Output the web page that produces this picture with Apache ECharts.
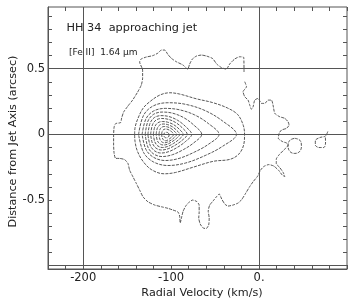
<!DOCTYPE html>
<html><head><meta charset="utf-8">
<script src="https://cdn.jsdelivr.net/npm/echarts@6/dist/echarts.min.js"></script>
<style>html,body{margin:0;padding:0;background:#fff}#c{width:354px;height:302px}</style>
</head><body><div id="c"></div>
<script>
// Axis tick / label values
const xLabelValues = [-200, -100, 0];
const xLabelTexts = ['-200', '-100', '0.'];
const yLabelValues = [-0.5, 0, 0.5];
const yLabelTexts = ['-0.5', '0', '0.5'];
const yTickValues = [-1.0,-0.9,-0.8,-0.7,-0.6,-0.5,-0.4,-0.3,-0.2,-0.1,0,0.1,0.2,0.3,0.4,0.5,0.6,0.7,0.8,0.9];
const refLinesX = [-200, 0];
const refLinesY = [0.5, 0, -1.0];

// Contours: [radial velocity km/s, distance arcsec]
const outerContour = [[-17.1,0.475],[-17.4,0.585],[-22.0,0.591],[-27.7,0.574],[-33.4,0.536],[-37.3,0.497],[-42.8,0.509],[-48.2,0.536],[-52.7,0.577],[-59.5,0.596],[-65.6,0.604],[-71.3,0.596],[-75.8,0.574],[-78.9,0.536],[-81.2,0.497],[-86.5,0.528],[-94.0,0.553],[-99.7,0.579],[-103.6,0.608],[-107.3,0.642],[-111.1,0.642],[-115.0,0.619],[-120.7,0.600],[-128.2,0.589],[-134.1,0.574],[-135.8,0.551],
[-132.4,0.490],[-132.4,0.429],[-133.9,0.376],[-138.1,0.322],[-143.8,0.261],[-149.1,0.216],[-154.0,0.170],[-156.3,0.124],[-157.4,0.090],[-163.1,0.082],[-164.8,0.056],[-165.4,-0.005],[-165.4,-0.081],[-164.8,-0.146],[-163.1,-0.183],[-158.6,-0.183],[-152.9,-0.192],[-149.1,-0.221],[-147.2,-0.272],[-143.4,-0.323],[-139.6,-0.373],[-135.8,-0.424],[-132.0,-0.475],[-126.4,-0.513],[-118.7,-0.538],[-111.1,-0.551],[-103.6,-0.563],[-97.9,-0.576],[-92.2,-0.591],[-90.3,-0.622],[-89.7,-0.675],[-88.0,-0.629],[-86.3,-0.584],[-83.4,-0.546],[-80.0,-0.519],[-75.5,-0.500],[-70.9,-0.511],[-68.1,-0.538],[-68.1,-0.591],[-68.6,-0.637],[-66.9,-0.683],[-63.5,-0.713],[-60.1,-0.717],[-57.3,-0.690],[-56.7,-0.637],[-57.8,-0.584],[-56.1,-0.538],[-52.4,-0.508],[-48.2,-0.473],[-45.3,-0.454],[-42.5,-0.492],[-39.0,-0.530],[-35.3,-0.546],[-29.6,-0.538],[-23.9,-0.523],[-19.7,-0.496],[-15.1,-0.447],[-10.6,-0.397],[-6.6,-0.359],[-1.5,-0.317],
[1.4,-0.275],[5.3,-0.245],[11.0,-0.230],[16.7,-0.241],[22.4,-0.275],[26.4,-0.310],[29.3,-0.321],[27.5,-0.291],[23.6,-0.253],[19.6,-0.222],[19.6,-0.188],[23.0,-0.154],[28.1,-0.119],[32.7,-0.085],[31.5,-0.066],[27.0,-0.056],[21.9,-0.030],[22.8,0.008],[25.5,0.033],[31.2,0.046],[34.1,0.071],[33.0,0.096],[29.3,0.122],[23.6,0.134],[17.9,0.160],[15.9,0.223],[14.1,0.261],[10.2,0.261],[6.5,0.236],[2.7,0.236],[-1.1,0.274],[-4.9,0.261],[-6.8,0.210],[-8.7,0.191],[-10.6,0.223],[-12.5,0.261],[-16.3,0.287],[-18.2,0.325],[-14.3,0.363],[-16.3,0.401]];
const blobCircle = [[40.6,-0.030],[46.5,-0.045],[48.2,-0.088],[46.2,-0.130],[40.6,-0.145],[35.0,-0.130],[33.0,-0.088],[35.0,-0.045],[40.6,-0.030]];
const blobRight = [[78.2,0.022],[75.4,-0.013],[69.1,-0.024],[64.0,-0.047],[64.0,-0.081],[68.0,-0.100],[73.6,-0.100],[75.6,-0.066],[75.4,-0.020]];
const contour2 = [[-141.5,0],[-140.9,0.056],[-137.7,0.122],[-132.0,0.198],[-124.4,0.248],[-113.0,0.299],[-101.6,0.317],[-90.3,0.307],[-71.3,0.271],[-52.7,0.242],[-35.6,0.200],[-24.2,0.150],[-18.0,0.070],[-16.5,0],[-17.5,-0.08],[-23,-0.15],[-33,-0.19],[-52,-0.205],[-75,-0.25],[-95,-0.29],[-108,-0.3],[-122,-0.27],[-132,-0.205],[-138.5,-0.125],[-141,-0.055],[-141.5,0]];
const contour3 = [[-137.0,0],[-131.4,0.145],[-120.3,0.217],[-103.6,0.241],[-83.6,0.229],[-61.3,0.181],[-41.3,0.101],[-25.7,0],[-41.3,-0.090],[-61.3,-0.161],[-83.6,-0.218],[-103.6,-0.237],[-120.3,-0.209],[-131.4,-0.137],[-137.0,0]];
const contour4 = [[-133.0,0],[-128.6,0.119],[-119.9,0.178],[-106.7,0.198],[-91.0,0.188],[-73.5,0.149],[-57.7,0.083],[-45.5,0],[-57.7,-0.076],[-73.5,-0.135],[-91.0,-0.183],[-106.7,-0.199],[-119.9,-0.175],[-128.6,-0.115],[-133.0,0]];
const contour5 = [[-129.5,0],[-126.3,0.102],[-119.9,0.153],[-110.2,0.170],[-98.6,0.162],[-85.8,0.128],[-74.2,0.071],[-65.2,0],[-74.2,-0.064],[-85.8,-0.115],[-98.6,-0.155],[-110.2,-0.169],[-119.9,-0.149],[-126.3,-0.098],[-129.5,0]];
const contour6 = [[-126.4,0],[-123.9,0.086],[-118.9,0.129],[-111.5,0.143],[-102.5,0.136],[-92.5,0.107],[-83.6,0.060],[-76.6,0],[-83.6,-0.054],[-92.5,-0.097],[-102.5,-0.131],[-111.5,-0.142],[-118.9,-0.125],[-123.9,-0.082],[-126.4,0]];
const contour7 = [[-123.3,0],[-121.2,0.073],[-117.1,0.109],[-110.8,0.121],[-103.3,0.115],[-95.0,0.091],[-87.5,0.051],[-81.7,0],[-87.5,-0.045],[-95.0,-0.081],[-103.3,-0.109],[-110.8,-0.119],[-117.1,-0.105],[-121.2,-0.069],[-123.3,0]];
const contour8 = [[-120.2,0],[-118.5,0.059],[-115.1,0.088],[-110.0,0.098],[-103.9,0.093],[-97.1,0.074],[-91.0,0.041],[-86.3,0],[-91.0,-0.038],[-97.1,-0.068],[-103.9,-0.092],[-110.0,-0.100],[-115.1,-0.088],[-118.5,-0.058],[-120.2,0]];
const contour9 = [[-117.0,0],[-115.7,0.047],[-113.0,0.071],[-109.0,0.079],[-104.2,0.075],[-98.8,0.059],[-94.0,0.033],[-90.3,0],[-94.0,-0.031],[-98.8,-0.055],[-104.2,-0.075],[-109.0,-0.081],[-113.0,-0.071],[-115.7,-0.047],[-117.0,0]];
const contour10 = [[-113.8,0],[-112.8,0.036],[-110.8,0.054],[-107.8,0.060],[-104.2,0.057],[-100.1,0.045],[-96.5,0.025],[-93.7,0],[-96.5,-0.024],[-100.1,-0.044],[-104.2,-0.059],[-107.8,-0.064],[-110.8,-0.056],[-112.8,-0.037],[-113.8,0]];
const contour11 = [[-110.7,0],[-110.0,0.025],[-106.7,0.041],[-101.7,0.031],[-97.4,0],[-101.7,-0.033],[-106.7,-0.049],[-110.0,-0.028],[-110.7,0]];
const peakContour = [[-108.5,-0.005],[-107.6,0.010],[-105.4,0.016],[-103.2,0.010],[-102.3,-0.005],[-103.2,-0.020],[-105.4,-0.026],[-107.6,-0.020],[-108.5,-0.005]];

const FONT = 'DejaVu Sans';
const LINE = '#555';
const contourList = [
  {d: outerContour, s: 0.2}, {d: blobCircle, s: 0.4}, {d: blobRight, s: 0.3},
  {d: contour2, s: 0.35}, {d: contour3, s: 0.35}, {d: contour4, s: 0.35}, {d: contour5, s: 0.35},
  {d: contour6, s: 0.35}, {d: contour7, s: 0.35}, {d: contour8, s: 0.35}, {d: contour9, s: 0.35},
  {d: contour10, s: 0.35}, {d: contour11, s: 0.4}, {d: peakContour, s: 0.5}
];

const chart = echarts.init(document.getElementById('c'), null, {renderer: 'canvas'});
const series = contourList.map(c => ({
  type: 'line', data: c.d, smooth: c.s, showSymbol: false, silent: true,
  lineStyle: {color: '#444', width: 0.9, type: [3, 1.2]}, xAxisIndex: 0, yAxisIndex: 0, z: 3
}));
series.push({
  type: 'line', data: [], silent: true, xAxisIndex: 0, yAxisIndex: 0,
  markLine: {
    silent: true, symbol: 'none', animation: false, label: {show: false},
    lineStyle: {color: LINE, width: 1, type: 'solid'},
    data: refLinesX.map(v => ({xAxis: v})).concat(refLinesY.map(v => ({yAxis: v})))
  }
});

const xBase = {type: 'value', min: -240, max: 100, interval: 20, splitLine: {show: false}};
const yBase = {type: 'value', min: -1.025, max: 0.97, splitLine: {show: false}};

chart.setOption({
  animation: false,
  backgroundColor: '#fff',
  grid: {left: 48, right: 7, top: 7, bottom: 33, show: true, borderColor: LINE, borderWidth: 1, backgroundColor: 'transparent'},
  xAxis: [
    Object.assign({}, xBase, {
      position: 'bottom',
      axisLine: {show: true, onZero: false, lineStyle: {color: LINE}},
      axisTick: {show: true, inside: true, length: 4, lineStyle: {color: LINE}},
      axisLabel: {margin: 3, color: '#222', fontFamily: FONT, fontSize: 11.5,
        formatter: v => { const i = xLabelValues.indexOf(Math.round(v)); return i >= 0 ? xLabelTexts[i] : ''; }}
    }),
    Object.assign({}, xBase, {
      position: 'top',
      axisLine: {show: false, onZero: false},
      axisTick: {show: true, inside: true, length: 4, lineStyle: {color: LINE}},
      axisLabel: {show: false}
    })
  ],
  yAxis: [
    Object.assign({}, yBase, {
      position: 'left',
      axisLine: {show: true, onZero: false, lineStyle: {color: LINE}},
      axisTick: {show: true, inside: true, length: 4, customValues: yTickValues, lineStyle: {color: LINE}},
      axisLabel: {margin: 3, color: '#222', fontFamily: FONT, fontSize: 11.5, customValues: yLabelValues,
        formatter: v => { const i = yLabelValues.findIndex(t => Math.abs(t - v) < 1e-6); return i >= 0 ? yLabelTexts[i] : ''; }}
    }),
    Object.assign({}, yBase, {
      position: 'right',
      axisLine: {show: false, onZero: false},
      axisTick: {show: true, inside: true, length: 4, customValues: yTickValues, lineStyle: {color: LINE}},
      axisLabel: {show: false}
    })
  ],
  graphic: [
    {type: 'text', x: 66.5, y: 28.5, silent: true,
      style: {text: 'HH 34  approaching jet', fontFamily: FONT, fontSize: 11.3, fill: '#222', verticalAlign: 'middle'}},
    {type: 'text', x: 69, y: 52.5, silent: true,
      style: {text: '[Fe II]  1.64 \u03bcm', fontFamily: FONT, fontSize: 9, fill: '#222', verticalAlign: 'middle'}},
    {type: 'text', x: 202, y: 293, silent: true,
      style: {text: 'Radial Velocity (km/s)', fontFamily: FONT, fontSize: 11.2, fill: '#222', align: 'center', verticalAlign: 'middle'}},
    {type: 'text', x: 13.5, y: 141.5, rotation: Math.PI / 2, silent: true,
      style: {text: 'Distance from Jet Axis (arcsec)', fontFamily: FONT, fontSize: 11.2, fill: '#222', align: 'center', verticalAlign: 'middle'}}
  ],
  series: series
});
</script>
</body></html>
